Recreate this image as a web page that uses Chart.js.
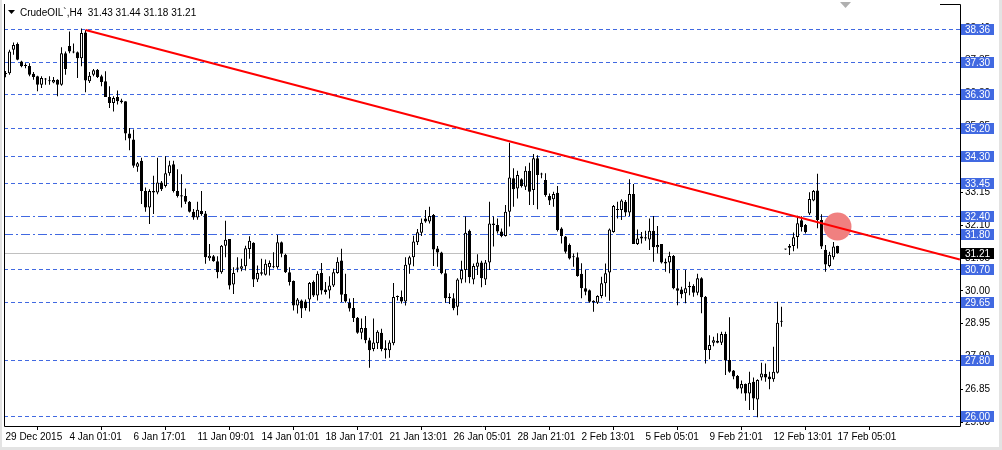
<!DOCTYPE html>
<html>
<head>
<meta charset="utf-8">
<script src="https://cdn.jsdelivr.net/npm/chart.js@4/dist/chart.umd.min.js"></script>
<style>
  html, body { margin: 0; padding: 0; background: #fff; }
  #wrap { width: 1002px; height: 450px; }
</style>
</head>
<body>
<div id="wrap"><canvas id="chart" width="1002" height="450"></canvas></div>
<script>
// CrudeOIL H4 candles, 29 Dec 2015 .. 17 Feb 2016
var timeLabels = ['29 Dec 2015', '4 Jan 01:01', '6 Jan 17:01', '11 Jan 09:01', '14 Jan 01:01', '18 Jan 17:01', '21 Jan 13:01',
    '26 Jan 05:01', '28 Jan 21:01', '2 Feb 13:01', '5 Feb 05:01', '9 Feb 21:01', '12 Feb 13:01', '17 Feb 05:01'];
var timeTickBars = [0, 16, 32, 48, 64, 80, 96, 112, 128, 144, 160, 176, 192, 208];

var opens = [
    36.95, 36.95, 37.70, 37.88, 37.32, 37.20, 37.18, 36.93, 36.85, 36.58,
    36.75, 36.70, 36.65, 36.74, 36.58, 37.59, 37.82, 37.64, 37.62, 37.43,
    38.25, 36.69, 36.90, 37.06, 36.85, 36.69, 36.19, 36.00, 36.19, 36.08,
    36.05, 35.02, 34.83, 33.96, 34.15, 33.19, 32.66, 33.19, 33.14, 33.46,
    33.35, 33.75, 34.04, 33.19, 33.05, 33.03, 32.84, 32.52, 32.34, 32.55,
    32.47, 31.04, 31.10, 30.94, 30.59, 31.44, 31.65, 30.20, 30.70, 30.70,
    30.78, 31.33, 31.53, 30.36, 30.59, 30.51, 30.75, 30.78, 30.75, 31.55,
    31.15, 30.59, 30.31, 29.53, 29.69, 29.66, 29.72, 30.28, 29.85, 30.57,
    30.04, 30.01, 30.17, 30.57, 30.97, 29.90, 29.62, 29.45, 29.14, 28.66,
    28.81, 28.42, 28.14, 28.32, 28.66, 28.16, 28.10, 28.32, 29.82, 29.80,
    29.66, 30.83, 31.07, 31.55, 31.85, 32.31, 32.21, 32.42, 31.35, 31.22,
    30.56, 29.81, 29.76, 29.49, 30.36, 30.66, 31.92, 30.36, 30.77, 30.90,
    30.36, 30.90, 32.15, 32.10, 31.89, 31.75, 32.52, 33.59, 33.27, 33.56,
    33.32, 33.83, 33.22, 34.23, 33.73, 33.54, 33.03, 32.92, 33.13, 31.99,
    31.73, 31.46, 31.07, 31.07, 30.54, 30.08, 30.02, 29.68, 29.62, 29.83,
    30.24, 30.58, 31.88, 32.61, 32.58, 32.84, 32.50, 33.09, 31.49, 31.73,
    31.71, 31.64, 31.92, 31.39, 31.49, 30.93, 30.90, 31.11, 30.08, 30.04,
    29.92, 30.15, 30.15, 29.94, 30.40, 29.81, 28.11, 28.34, 28.40, 28.34,
    28.62, 27.79, 27.45, 27.28, 26.88, 27.02, 26.72, 27.09, 26.53, 27.23,
    27.34, 27.26, 27.17, 27.38, 29.02, 31.33, 31.37, 31.43, 31.72, 32.25,
    32.10, 32.47, 32.88, 33.20, 32.26, 31.31, 30.79, 31.07, 31.43
];
var highs = [
    37.02, 37.70, 37.93, 37.93, 37.35, 37.27, 37.27, 36.99, 36.87, 36.85,
    36.80, 36.85, 36.83, 36.76, 37.78, 37.64, 38.28, 37.90, 37.64, 38.38,
    38.33, 36.99, 37.08, 37.08, 36.90, 37.01, 36.53, 36.21, 36.40, 36.13,
    36.05, 35.20, 35.15, 34.11, 34.25, 33.30, 33.24, 33.67, 34.25, 33.51,
    34.30, 34.15, 34.15, 33.88, 33.72, 33.27, 32.87, 32.61, 32.84, 33.19,
    32.55, 31.49, 31.14, 31.10, 31.46, 32.24, 31.65, 30.75, 31.07, 31.02,
    31.44, 31.74, 31.55, 30.81, 31.02, 31.00, 30.97, 31.23, 31.78, 31.57,
    31.18, 30.75, 30.33, 29.77, 29.72, 29.72, 30.28, 30.33, 30.62, 30.89,
    30.28, 30.46, 30.70, 31.07, 31.34, 30.54, 29.75, 29.77, 29.16, 29.11,
    29.19, 28.50, 29.11, 28.74, 28.79, 28.42, 28.42, 30.25, 29.85, 30.01,
    31.07, 31.12, 31.76, 31.97, 32.31, 32.58, 32.68, 32.45, 31.43, 31.25,
    30.68, 29.92, 29.92, 30.40, 30.96, 32.37, 31.96, 30.87, 31.17, 30.96,
    30.98, 32.84, 32.37, 32.31, 31.99, 32.74, 34.73, 33.91, 33.83, 33.59,
    33.98, 34.09, 34.37, 34.33, 33.77, 33.75, 33.11, 33.16, 33.35, 32.03,
    31.75, 31.51, 31.19, 31.22, 30.88, 30.66, 30.04, 29.70, 29.86, 30.45,
    30.87, 31.99, 32.74, 32.84, 32.92, 32.90, 33.56, 33.41, 31.96, 31.88,
    31.92, 32.31, 32.39, 32.07, 31.49, 31.03, 31.25, 31.14, 30.66, 30.13,
    30.66, 30.29, 30.21, 30.54, 30.43, 29.83, 28.58, 28.53, 28.64, 28.69,
    28.69, 29.15, 27.47, 27.31, 27.13, 27.04, 27.41, 27.23, 27.17, 27.70,
    27.68, 27.41, 28.21, 29.65, 29.49, 31.34, 31.49, 31.86, 32.40, 32.38,
    32.13, 33.15, 33.22, 33.74, 32.44, 31.46, 31.25, 31.56, 31.44
];
var lows = [
    36.82, 36.90, 37.54, 37.36, 37.14, 37.11, 36.85, 36.74, 36.37, 36.48,
    36.58, 36.58, 36.63, 36.21, 36.55, 36.90, 37.59, 37.59, 36.80, 37.17,
    36.34, 36.64, 36.85, 36.80, 36.53, 36.19, 35.84, 35.73, 35.95, 35.98,
    34.81, 34.49, 33.93, 33.80, 32.77, 32.52, 32.13, 32.45, 33.08, 33.19,
    33.30, 33.67, 33.14, 32.98, 32.66, 32.77, 32.50, 32.27, 32.27, 32.40,
    30.86, 30.96, 30.93, 30.40, 30.54, 31.07, 30.04, 29.90, 30.59, 30.62,
    30.65, 31.02, 30.12, 30.28, 30.49, 30.49, 30.49, 30.72, 30.70, 31.07,
    30.57, 30.17, 29.37, 29.27, 29.13, 29.37, 29.34, 29.80, 29.69, 29.88,
    29.88, 29.75, 30.12, 30.54, 29.64, 29.62, 29.34, 29.00, 28.63, 28.45,
    28.32, 27.54, 28.07, 28.14, 28.07, 27.84, 27.86, 28.26, 29.69, 29.59,
    29.53, 30.54, 30.78, 31.46, 31.75, 32.17, 32.15, 30.79, 30.77, 30.53,
    29.62, 29.58, 29.38, 29.22, 30.24, 30.26, 30.24, 30.21, 30.50, 30.11,
    30.18, 30.66, 31.41, 31.83, 31.71, 31.73, 32.05, 32.68, 32.95, 33.30,
    33.22, 32.74, 32.74, 32.60, 33.59, 33.00, 32.74, 32.68, 31.89, 31.51,
    31.19, 31.00, 30.77, 30.45, 29.76, 29.86, 29.62, 29.33, 29.58, 29.76,
    29.81, 29.68, 31.85, 32.31, 32.26, 32.37, 32.39, 31.49, 31.46, 31.51,
    31.60, 31.30, 30.93, 31.19, 30.87, 30.61, 30.56, 30.05, 29.54, 29.76,
    29.60, 29.86, 29.81, 29.86, 29.28, 27.68, 27.81, 28.23, 28.32, 28.27,
    27.31, 27.38, 27.17, 26.85, 26.72, 26.49, 26.19, 26.19, 25.96, 27.13,
    27.09, 26.85, 27.09, 27.36, 28.85, 31.31, 31.14, 31.26, 31.35, 31.89,
    31.83, 32.42, 32.86, 32.00, 31.33, 30.61, 30.75, 31.00, 31.18
];
var closes = [
    36.92, 37.64, 37.85, 37.38, 37.17, 37.18, 36.90, 36.83, 36.58, 36.80,
    36.77, 36.69, 36.73, 36.58, 37.59, 37.08, 37.64, 37.61, 37.43, 38.23,
    36.72, 36.87, 37.04, 36.83, 36.67, 36.19, 36.00, 36.16, 36.05, 36.02,
    35.02, 34.86, 33.99, 34.07, 33.19, 32.66, 33.19, 33.14, 33.46, 33.24,
    33.75, 34.01, 33.19, 33.03, 33.01, 32.84, 32.52, 32.34, 32.59, 32.45,
    31.07, 31.12, 30.94, 30.59, 31.44, 31.63, 30.17, 30.57, 30.74, 30.78,
    31.36, 31.60, 30.36, 30.57, 30.54, 30.86, 30.89, 30.75, 31.55, 31.18,
    30.59, 30.28, 29.53, 29.72, 29.43, 29.45, 30.25, 29.85, 30.54, 30.01,
    29.96, 30.17, 30.59, 30.93, 29.87, 29.66, 29.43, 29.13, 28.66, 28.81,
    28.42, 28.10, 28.35, 28.69, 28.14, 28.10, 28.35, 29.80, 29.80, 29.66,
    30.83, 31.07, 31.57, 31.87, 32.17, 32.21, 32.39, 31.32, 31.22, 30.56,
    29.76, 29.76, 29.44, 30.36, 30.66, 31.85, 30.43, 30.79, 30.90, 30.40,
    30.90, 32.15, 32.10, 31.89, 31.75, 32.52, 33.62, 33.24, 33.70, 33.35,
    33.83, 33.16, 34.23, 33.70, 33.71, 33.06, 32.88, 33.09, 31.94, 31.75,
    31.25, 31.03, 31.07, 30.47, 30.08, 29.97, 29.65, 29.63, 29.83, 30.24,
    30.56, 31.96, 32.71, 32.58, 32.88, 32.50, 33.09, 31.49, 31.67, 31.67,
    31.67, 31.92, 31.39, 31.46, 30.90, 30.87, 31.11, 30.08, 30.00, 29.89,
    30.08, 30.11, 29.94, 30.40, 29.79, 28.11, 28.27, 28.42, 28.34, 28.62,
    27.77, 27.41, 27.26, 26.88, 27.02, 26.72, 27.06, 26.56, 27.15, 27.36,
    27.23, 27.17, 27.41, 28.98, 29.01, 31.32, 31.43, 31.71, 32.16, 32.04,
    31.88, 32.93, 33.19, 32.26, 31.41, 30.84, 31.15, 31.41, 31.21
];

var priceTicks = [25.80, 26.85, 27.90, 28.95, 30.00, 31.05, 32.10, 33.15, 34.20, 35.25, 36.30, 37.35, 38.40];
var levels = [38.36, 37.30, 36.30, 35.20, 34.30, 33.45, 32.40, 31.80, 30.70, 29.65, 27.80, 26.00];
var dashDotLevels = [32.40, 31.80];
var lastPrice = 31.21;
var headerText = 'CrudeOIL`,H4  31.43 31.44 31.18 31.21';

// trend line (bar index, price) and the marked spot
var trendBars = [20, 238.6];
var trendPrices = [38.33, 31.00];
var markBar = [208];
var markPrice = [32.05];

var BLUE = '#4169E1';
var FONT = '"Liberation Sans", Arial, sans-serif';
var FSIZE = 10;

var levelsPlugin = {
    id: 'levels',
    beforeDatasetsDraw(chart) {
        var ctx = chart.ctx, a = chart.chartArea, y = chart.scales.y;
        ctx.save();
        ctx.beginPath();
        ctx.rect(a.left, a.top, a.right - a.left, a.bottom - a.top);
        ctx.clip();
        // last price line
        var py = Math.round(y.getPixelForValue(lastPrice)) + 0.5;
        ctx.strokeStyle = '#C0C0C0';
        ctx.lineWidth = 1;
        ctx.beginPath();
        ctx.moveTo(a.left, py);
        ctx.lineTo(a.right, py);
        ctx.stroke();
        ctx.strokeStyle = BLUE;
        levels.forEach(v => {
            var ly = Math.round(y.getPixelForValue(v)) + 0.5;
            ctx.setLineDash(dashDotLevels.includes(v) ? [9, 3, 2, 3] : [4, 3]);
            ctx.beginPath();
            ctx.moveTo(a.left, ly);
            ctx.lineTo(a.right, ly);
            ctx.stroke();
        });
        ctx.restore();
    },
    afterDraw(chart) {
        var ctx = chart.ctx, a = chart.chartArea, y = chart.scales.y;
        ctx.save();
        // window edge
        ctx.fillStyle = '#E3E3E3';
        ctx.fillRect(0, 0, 2, 450);
        ctx.fillRect(999, 0, 3, 450);
        ctx.fillRect(0, 447, 1002, 3);
        // chart frame (left, bottom, right; top only near the price scale)
        ctx.strokeStyle = '#000';
        ctx.lineWidth = 1;
        ctx.beginPath();
        ctx.moveTo(a.left + 0.5, a.top);
        ctx.lineTo(a.left + 0.5, a.bottom + 0.5);
        ctx.lineTo(a.right + 0.5, a.bottom + 0.5);
        ctx.lineTo(a.right + 0.5, a.top + 0.5);
        ctx.lineTo(a.right - 20, a.top + 0.5);
        ctx.stroke();
        // level labels on the price scale
        ctx.font = FSIZE + 'px ' + FONT;
        ctx.textBaseline = 'middle';
        ctx.textAlign = 'left';
        levels.forEach(v => {
            var ly = Math.round(y.getPixelForValue(v));
            ctx.fillStyle = BLUE;
            ctx.fillRect(a.right + 1, ly - 5, 33, 11);
            ctx.fillStyle = '#fff';
            ctx.fillText(v.toFixed(2), a.right + 5, ly + 1);
        });
        var py = Math.round(y.getPixelForValue(lastPrice));
        ctx.fillStyle = '#000';
        ctx.fillRect(a.right + 1, py - 5, 33, 11);
        ctx.fillStyle = '#fff';
        ctx.fillText(lastPrice.toFixed(2), a.right + 5, py + 1);
        // header
        ctx.fillStyle = '#000';
        ctx.beginPath();
        ctx.moveTo(8, 10);
        ctx.lineTo(15, 10);
        ctx.lineTo(11.5, 14);
        ctx.closePath();
        ctx.fill();
        ctx.textBaseline = 'alphabetic';
        ctx.font = '10px ' + FONT;
        ctx.fillText(headerText, 20, 16);
        // chart shift marker
        ctx.fillStyle = '#B0B0B0';
        ctx.beginPath();
        ctx.moveTo(840, 2);
        ctx.lineTo(851, 2);
        ctx.lineTo(845.5, 8);
        ctx.closePath();
        ctx.fill();
        ctx.restore();
    }
};

var bodyColors = opens.map((o, i) => closes[i] >= o ? '#fff' : '#000');

function noPad(s) {
    s.paddingLeft = 0;
    s.paddingRight = 0;
    s.paddingTop = 0;
    s.paddingBottom = 0;
}

new Chart(document.getElementById('chart'), {
    type: 'bar',
    data: {
        datasets: [
            {
                type: 'line',
                data: trendBars.map((b, i) => ({ x: b, y: trendPrices[i] })),
                borderColor: '#FF0000',
                borderWidth: 2,
                pointRadius: 0,
                order: 0
            },
            {
                type: 'bubble',
                data: markBar.map((b, i) => ({ x: b, y: markPrice[i], r: 14 })),
                backgroundColor: '#F08080',
                borderWidth: 0,
                order: 1
            },
            {
                data: opens.map((o, i) => ({ x: i, y: [o, closes[i]] })),
                backgroundColor: bodyColors,
                borderColor: '#000',
                borderWidth: 1,
                borderSkipped: false,
                inflateAmount: 0,
                barThickness: 3,
                minBarLength: 1,
                grouped: false,
                order: 2
            },
            {
                data: lows.map((l, i) => ({ x: i, y: [l, highs[i]] })),
                backgroundColor: '#000',
                borderWidth: 0,
                inflateAmount: 0,
                barThickness: 1,
                grouped: false,
                order: 3
            }
        ]
    },
    options: {
        responsive: false,
        animation: false,
        events: [],
        layout: { autoPadding: false, padding: { left: 4, top: 4, right: 0, bottom: 0 } },
        plugins: { legend: { display: false }, tooltip: { enabled: false } },
        scales: {
            x: {
                type: 'linear',
                min: -0.375,
                max: 238.625,
                offset: false,
                afterFit: s => { s.height = 24; noPad(s); },
                afterBuildTicks: s => { s.ticks = timeTickBars.map(v => ({ value: v })); },
                grid: { drawOnChartArea: false, drawTicks: true, tickLength: 4, color: '#000' },
                border: { display: false },
                ticks: {
                    autoSkip: false,
                    maxRotation: 0,
                    align: 'start',
                    padding: 1,
                    color: '#000',
                    font: { family: FONT, size: FSIZE },
                    callback: v => timeLabels[timeTickBars.indexOf(v)]
                }
            },
            y: {
                position: 'right',
                min: 25.68,
                max: 39.16,
                afterFit: s => { s.width = 42; noPad(s); },
                afterBuildTicks: s => { s.ticks = priceTicks.map(v => ({ value: v })); },
                grid: { drawOnChartArea: false, drawTicks: true, tickLength: 3, color: '#000' },
                border: { display: false },
                ticks: {
                    padding: 2,
                    color: '#000',
                    font: { family: FONT, size: FSIZE },
                    callback: v => v.toFixed(2)
                }
            }
        }
    },
    plugins: [levelsPlugin]
});
</script>
</body>
</html>
